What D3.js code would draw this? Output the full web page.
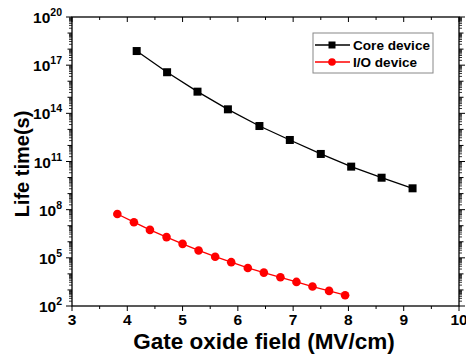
<!DOCTYPE html>
<html><head><meta charset="utf-8">
<script src="https://cdn.jsdelivr.net/npm/d3@7"></script>
<style>body{margin:0;background:#fff}svg{display:block;font-family:Arial,"Liberation Sans",sans-serif}</style>
</head><body><svg id="c" width="466" height="358"></svg>
<script>
const coreX = [4.17, 4.72, 5.27, 5.82, 6.39, 6.94, 7.50, 8.05, 8.60, 9.16];
const coreLog = [17.88, 16.56, 15.35, 14.25, 13.21, 12.34, 11.47, 10.68, 9.99, 9.33];
const ioX = [3.82, 4.12, 4.41, 4.71, 5.00, 5.29, 5.59, 5.88, 6.18, 6.47, 6.77, 7.06, 7.35, 7.65, 7.94];
const ioLog = [7.73, 7.22, 6.74, 6.29, 5.87, 5.46, 5.07, 4.73, 4.37, 4.08, 3.79, 3.50, 3.21, 2.94, 2.67];
const xTicks = [3, 4, 5, 6, 7, 8, 9, 10];
const yTickExps = [2, 5, 8, 11, 14, 17, 20];
const seriesNames = ["Core device", "I/O device"];

const svg = d3.select("#c");
const L = 72, R = 459, T = 17, B = 306;
const x = d3.scaleLinear().domain([3, 10]).range([L, R]);
const y = d3.scaleLog().domain([1e2, 1e20]).range([B, T]);

// frame
svg.append("rect").attr("x", L).attr("y", T).attr("width", R - L).attr("height", B - T)
  .attr("fill", "none").attr("stroke", "#000").attr("stroke-width", 1.3);

// x ticks (major + half minor)
const xMinor = d3.range(3.5, 10, 1);
const g = svg.append("g").attr("stroke", "#000").attr("stroke-width", 1);
xTicks.forEach(v => {
  g.append("line").attr("x1", x(v)).attr("x2", x(v)).attr("y1", B).attr("y2", B + 5);
  g.append("line").attr("x1", x(v)).attr("x2", x(v)).attr("y1", T).attr("y2", T + 5);
});
xMinor.forEach(v => {
  g.append("line").attr("x1", x(v)).attr("x2", x(v)).attr("y1", B).attr("y2", B + 3);
  g.append("line").attr("x1", x(v)).attr("x2", x(v)).attr("y1", T).attr("y2", T + 3);
});
// y ticks
for (let e = 2; e <= 20; e++) {
  const major = yTickExps.includes(e);
  const len = major ? 6 : 4.5;
  g.append("line").attr("x1", L - len).attr("x2", L).attr("y1", y(Math.pow(10, e))).attr("y2", y(Math.pow(10, e)));
  g.append("line").attr("x1", R).attr("x2", R + len).attr("y1", y(Math.pow(10, e))).attr("y2", y(Math.pow(10, e)));
  if (e < 20) {
    for (let m = 2; m <= 9; m++) {
      const yy = y(m * Math.pow(10, e));
      g.append("line").attr("x1", L - 3).attr("x2", L).attr("y1", yy).attr("y2", yy).attr("stroke-width", 0.8);
      g.append("line").attr("x1", R).attr("x2", R + 3).attr("y1", yy).attr("y2", yy).attr("stroke-width", 0.8);
    }
  }
}

// x tick labels
svg.append("g").selectAll("text").data(xTicks).join("text")
  .attr("x", d => x(d)).attr("y", B + 19).attr("text-anchor", "middle")
  .attr("font-size", 15.5).attr("font-weight", "bold").text(d => d);

// y tick labels
const yl = svg.append("g").selectAll("text").data(yTickExps).join("text")
  .attr("x", 62).attr("y", d => y(Math.pow(10, d)) + 6).attr("text-anchor", "end")
  .attr("font-size", 15.5).attr("font-weight", "bold");
yl.append("tspan").text("10");
yl.append("tspan").attr("dy", -7).attr("font-size", 10.5).text(d => d);

// axis titles
svg.append("text").attr("x", 264).attr("y", 349).attr("text-anchor", "middle")
  .attr("font-size", 22.5).attr("font-weight", "bold")
  .text("Gate oxide field (MV/cm)");
svg.append("text").attr("transform", "translate(29,164) rotate(-90)").attr("text-anchor", "middle")
  .attr("font-size", 20).attr("font-weight", "bold")
  .text("Life time(s)");

// series
const line = d3.line().x(d => x(d[0])).y(d => y(Math.pow(10, d[1])));
const core = coreX.map((v, i) => [v, coreLog[i]]);
const io = ioX.map((v, i) => [v, ioLog[i]]);
svg.append("path").attr("d", line(core)).attr("fill", "none").attr("stroke", "#000").attr("stroke-width", 1.3);
svg.append("g").selectAll("rect").data(core).join("rect")
  .attr("x", d => x(d[0]) - 4).attr("y", d => y(Math.pow(10, d[1])) - 4)
  .attr("width", 8).attr("height", 8).attr("fill", "#000");
svg.append("path").attr("d", line(io)).attr("fill", "none").attr("stroke", "#f00").attr("stroke-width", 1.3);
svg.append("g").selectAll("circle").data(io).join("circle")
  .attr("cx", d => x(d[0])).attr("cy", d => y(Math.pow(10, d[1]))).attr("r", 4.3).attr("fill", "#f00");

// legend
const lg = svg.append("g");
lg.append("rect").attr("x", 313).attr("y", 33).attr("width", 120).attr("height", 40)
  .attr("fill", "#fff").attr("stroke", "#888").attr("stroke-width", 1);
const colors = ["#000", "#f00"];
const legW = [77, 64];
seriesNames.forEach((n, i) => {
  const yy = 45 + i * 17;
  lg.append("line").attr("x1", 315).attr("x2", 350).attr("y1", yy).attr("y2", yy).attr("stroke", colors[i]).attr("stroke-width", 1.3);
  if (i === 0) lg.append("rect").attr("x", 332 - 3.5).attr("y", yy - 3.5).attr("width", 7).attr("height", 7).attr("fill", "#000");
  else lg.append("circle").attr("cx", 332).attr("cy", yy).attr("r", 3.8).attr("fill", "#f00");
  lg.append("text").attr("x", 353).attr("y", yy + 5).attr("font-size", 13).attr("font-weight", "bold")
    .attr("textLength", legW[i]).attr("lengthAdjust", "spacingAndGlyphs").text(n);
});
</script></body></html>
